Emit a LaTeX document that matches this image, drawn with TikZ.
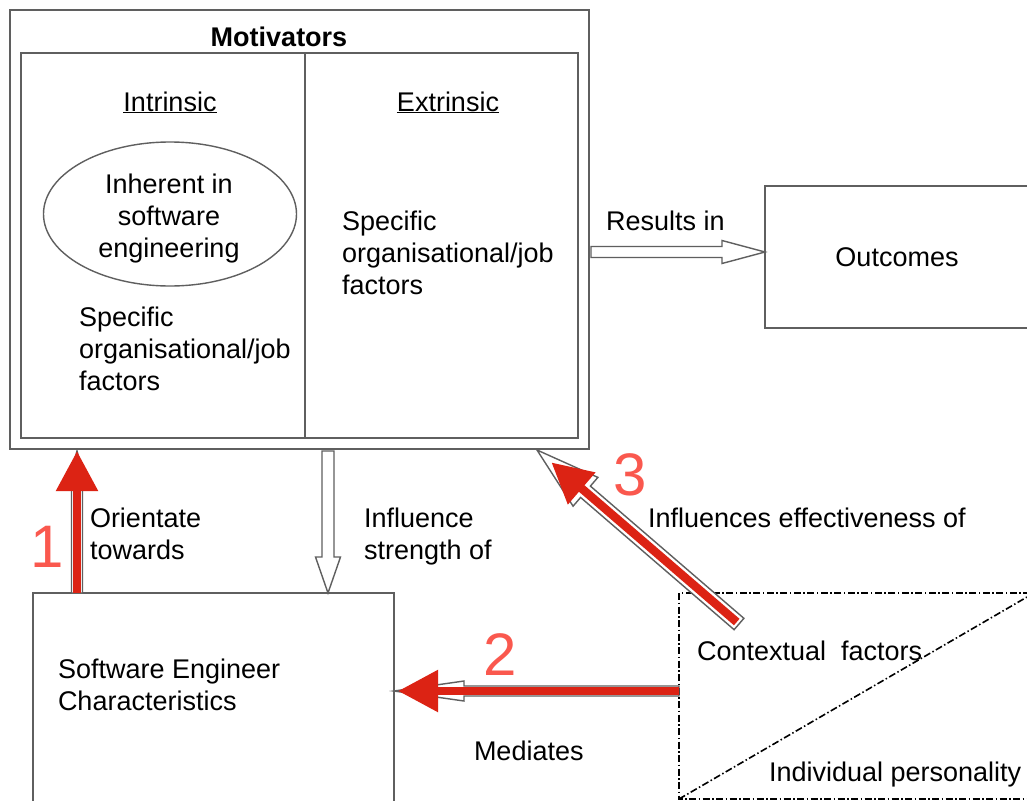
\documentclass[tikz,border=0pt]{standalone}
\usepackage{fontspec}
\setmainfont{Liberation Sans}
\usetikzlibrary{arrows.meta,calc,shapes.geometric}
\definecolor{arrred}{RGB}{220,35,20}
\definecolor{numred}{RGB}{250,88,78}
\definecolor{boxgray}{RGB}{95,95,95}
\newcommand\hollowarrow[5]{%
  \path let \p1=($(#2)-(#1)$) in \pgfextra{\pgfmathsetmacro\hAng{atan2(\y1,\x1)}\pgfmathsetmacro\hLen{veclen(\x1,\y1)}\xdef\gAng{\hAng}\xdef\gLen{\hLen}};
  \begin{scope}[shift={(#1)},rotate=\gAng]
    \draw[hollowline] (0,-#3) -- ({\gLen-#4},-#3) -- ({\gLen-#4},-#5) -- (\gLen,0) -- ({\gLen-#4},#5) -- ({\gLen-#4},#3) -- (0,#3) -- cycle;
  \end{scope}}
\tikzset{
  box/.style={draw=boxgray, line width=1.8pt, inner sep=0pt, outer sep=0pt, anchor=north west},
  hollowline/.style={draw=boxgray, line width=1.4pt, fill=white, line join=miter},
  txt/.style={font=\fontsize{27}{32}\selectfont, inner sep=0pt, outer sep=0pt, align=left},
  num/.style={font=\fontsize{60}{60}\selectfont, text=numred, inner sep=0pt},
  redarrow/.style={draw=arrred, line width=8.5pt, -{Triangle[length=40pt,width=40pt]}},
  dashdot/.style={line width=1.6pt, dash pattern=on 7pt off 2.5pt on 1.5pt off 2.5pt}
}
\begin{document}
\begin{tikzpicture}[x=1pt,y=-1pt]
\path[clip] (0,0) rectangle (1027,800);
\fill[white] (0,0) rectangle (1027,800);
% Motivators
\node[box, minimum width=579pt, minimum height=439pt] (mot) at (10,10) {};
\node[box, minimum width=557pt, minimum height=385pt] (inner) at (21,53) {};
\draw[boxgray, line width=1.8pt] (inner.north -| 305,0) coordinate (dvt) -- (dvt |- inner.south);
\node[font=\bfseries\fontsize{27}{32}\selectfont, inner sep=0pt] (motl) at (279,37) {Motivators};
\node[txt, anchor=base] (intr) at (170,111) {\underline{Intrinsic}};
\node[txt, anchor=base] (extr) at (448,111) {\underline{Extrinsic}};
\node[draw=boxgray, line width=1.4pt, ellipse, minimum width=253pt, minimum height=144pt, inner sep=0pt] (inh) at (170,214) {};
\node[txt, align=center, anchor=north] (inht) at (169,174) {Inherent in\\software\\engineering};
\node[txt, anchor=north west] (spl) at (79,307) {Specific\\organisational/job\\factors};
\node[txt, anchor=north west] (spr) at (342,211) {Specific\\organisational/job\\factors};
% Outcomes
\node[box, minimum width=270pt, minimum height=142pt] (out) at (765,186) {};
\node[txt] (outt) at (897,257) {Outcomes};
% Software engineer
\node[box, minimum width=361pt, minimum height=230pt] (sec) at (33,593) {};
\node[txt, anchor=north west] (sect) at (58,659) {Software Engineer\\Characteristics};
% Contextual region
\coordinate (cnw) at (679,593);
\coordinate (csw) at (679,799);
\coordinate (cne) at (1030,593);
\draw[dashdot] (cne) -- (cnw) -- (csw) -- (1030,799);
\draw[dashdot] (csw) -- (1027,597);
\node[txt, anchor=base west] (ctxt) at (697,660) {Contextual\ \ factors};
\node[txt, anchor=base west] (indt) at (769,781) {Individual personality};
% Results in
\coordinate (rs) at (591,252);
\coordinate (re) at (out.west |- rs);
\hollowarrow{rs}{re}{5.5}{43}{11.5}
\node[txt, anchor=base west] (rest) at (606,230) {Results in};
% Influence strength of
\coordinate (is) at (328,451);
\coordinate (ie) at (is |- sec.north);
\hollowarrow{is}{ie}{6}{36}{12.5}
\node[txt, anchor=north west] (inft) at (364,508) {Influence\\strength of};
% 1 Orientate towards
\coordinate (os) at (77,593);
\coordinate (oe) at (77,451);
\hollowarrow{os}{oe}{5.5}{30}{8}
\draw[redarrow] (os) -- (oe);
\node[txt, anchor=north west] (ort) at (90,508) {Orientate\\towards};
\node[num] (n1) at (47,547) {1};
% 2 Mediates
\coordinate (ms) at (cnw |- 0,691);
\coordinate (me) at (sec.east |- ms);
\hollowarrow{ms}{me}{5}{70}{10}
\draw[redarrow] (ms) -- ($(me)+(4,0)$);
\node[txt, anchor=base west] (medt) at (474,760) {Mediates};
\node[num] (n2) at (500,655) {2};
% 3 Influences effectiveness of
\coordinate (es) at (739,624);
\coordinate (ee) at (537,450);
\hollowarrow{es}{ee}{7.5}{64}{19}
\draw[redarrow] ($(es)!3pt!(ee)$) -- ($(ee)!19pt!(es)$);
\node[txt, anchor=base west] (efft) at (648,527) {Influences effectiveness of};
\node[num] (n3) at (630,475) {3};
\end{tikzpicture}
\end{document}
